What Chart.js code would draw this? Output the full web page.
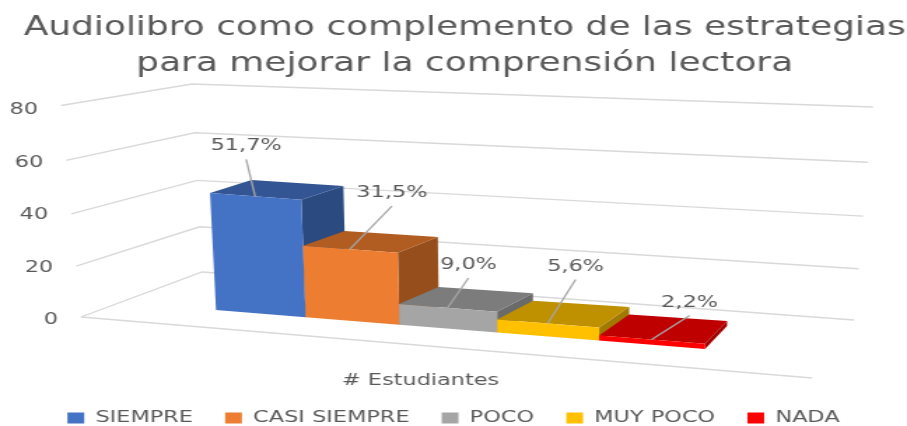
<!DOCTYPE html>
<html>
<head>
<meta charset="utf-8">
<style>
  html, body { margin: 0; background: #fff; overflow: hidden; }
</style>
<script src="https://cdn.jsdelivr.net/npm/chart.js@4"></script>
</head>
<body>
<!-- the reference is a wide, blurry upscale: draw narrow, then stretch -->
<canvas id="chart" width="648" height="426" style="display:block;width:907px;height:426px;filter:blur(0.4px)"></canvas>
<script>
const titleLines = ['Audiolibro como complemento de las estrategias', 'para mejorar la comprensión lectora'];
const categories = ['# Estudiantes'];
const seriesNames = ['SIEMPRE', 'CASI SIEMPRE', 'POCO', 'MUY POCO', 'NADA'];
const seriesValues = [46, 28, 8, 5, 2];
const percentLabels = ['51,7%', '31,5%', '9,0%', '5,6%', '2,2%'];
const yTickValues = [0, 20, 40, 60, 80];

const seriesColors = ['#4472C4', '#ED7D31', '#A5A5A5', '#FFC000', '#FF0000'];
const topColors = ['#335593', '#B15C20', '#7C7C7C', '#BF9000', '#BF0000'];
const sideColors = ['#2A4A80', '#964F1C', '#6A6A6A', '#A07900', '#A00000'];

const STRETCH = 907 / 648;
const TEXT = '#595959';
const FONT = '"DejaVu Sans"';

// 3D look: where the unit square (along x, up y) of each plane lands in the picture
const frontPlane = { bl: [216, 310], br: [705, 349], tl: [205.6, 106.5], tr: [710, 141], a: 0.896, b: 0.104 };
const backPlane = { bl: [256, 295], br: [727, 326], tl: [248, 95], tr: [733, 126], a: 0.95, b: 0.05 };

// box corners at value 0 and at the axis max
const wall = {
  front: [[81, 317], [61, 105.5]],
  corner: [[202, 272], [192, 84]],
  right: [[854, 320], [873, 107]],
  floorEnd: [812, 378]
};

// data label leader, from the bar's top front edge
const leaderOffsets = [[-9, -37], [42, -43], [21, -30], [28, -44], [38, -24]];

function lerp(p, q, t) {
  return [p[0] + (q[0] - p[0]) * t, p[1] + (q[1] - p[1]) * t];
}

function project(plane, s, q) {
  const t = plane.a * s + plane.b * s * s;
  return lerp(lerp(plane.bl, plane.br, t), lerp(plane.tl, plane.tr, t), q);
}

function polygon(ctx, pts, color) {
  ctx.beginPath();
  pts.forEach((p, i) => i ? ctx.lineTo(p[0] / STRETCH, p[1]) : ctx.moveTo(p[0] / STRETCH, p[1]));
  ctx.closePath();
  ctx.fillStyle = color;
  ctx.fill();
}

function polyline(ctx, pts, color, width) {
  ctx.beginPath();
  pts.forEach((p, i) => i ? ctx.lineTo(p[0] / STRETCH, p[1]) : ctx.moveTo(p[0] / STRETCH, p[1]));
  ctx.strokeStyle = color;
  ctx.lineWidth = width;
  ctx.stroke();
}

const box3d = {
  id: 'box3d',
  afterLayout(chart) {
    // title sits a little right of the canvas centre
    chart.titleBlock.left += 8;
    chart.titleBlock.right += 8;
  },
  beforeDatasetsDraw(chart) {
    const ctx = chart.ctx;
    const x = chart.scales.x;
    const y = chart.scales.y;
    const fracOf = px => (y.bottom - px) / (y.bottom - y.top);

    ctx.save();

    // walls and floor
    y.ticks.forEach(tick => {
      let q = fracOf(y.getPixelForValue(tick.value));
      q = q - 0.05 * q * (1 - q);
      const a = lerp(wall.front[0], wall.front[1], q);
      const b = lerp(wall.corner[0], wall.corner[1], q);
      const c = lerp(wall.right[0], wall.right[1], q);
      polyline(ctx, [a, b, c], '#D9D9D9', 1.4);

      ctx.font = '16px ' + FONT;
      ctx.fillStyle = TEXT;
      ctx.textAlign = 'right';
      ctx.textBaseline = 'middle';
      ctx.fillText(tick.value, (a[0] - 23) / STRETCH, y.getPixelForValue(tick.value));
    });
    polyline(ctx, [wall.front[0], wall.floorEnd], '#D9D9D9', 1.4);

    // bars, left to right so each one covers the previous side
    chart.data.datasets.forEach((ds, i) => {
      const el = chart.getDatasetMeta(i).data[0];
      const s0 = (el.x - el.width / 2 - x.left) / x.width;
      const s1 = (el.x + el.width / 2 - x.left) / x.width;
      const q = fracOf(el.y);
      const f = (s, v) => project(frontPlane, s, v);
      const b = (s, v) => project(backPlane, s, v);

      polygon(ctx, [f(s1, 0), f(s1, q), b(s1, q), b(s1, 0)], sideColors[i]);
      polygon(ctx, [f(s0, q), f(s1, q), b(s1, q), b(s0, q)], topColors[i]);
      polygon(ctx, [f(s0, 0), f(s1, 0), f(s1, q), f(s0, q)], ds.backgroundColor);
    });

    // data labels with leaders
    chart.data.datasets.forEach((ds, i) => {
      const el = chart.getDatasetMeta(i).data[0];
      const sc = (el.x - x.left) / x.width;
      const end = project(frontPlane, sc, fracOf(el.y));
      const start = [end[0] + leaderOffsets[i][0], end[1] + leaderOffsets[i][1]];
      polyline(ctx, [start, end], '#A6A6A6', 1.3);

      ctx.font = '16px ' + FONT;
      ctx.fillStyle = TEXT;
      ctx.textAlign = 'center';
      ctx.textBaseline = 'middle';
      ctx.fillText(percentLabels[i], start[0] / STRETCH, start[1] - 13);
    });

    ctx.restore();
  },
  beforeDatasetDraw() {
    return false;
  }
};

new Chart(document.getElementById('chart'), {
  type: 'bar',
  data: {
    labels: categories,
    datasets: seriesNames.map((name, i) => ({
      label: name,
      data: [seriesValues[i]],
      backgroundColor: seriesColors[i],
      barPercentage: 1,
      categoryPercentage: 1
    }))
  },
  plugins: [box3d],
  options: {
    responsive: false,
    animation: false,
    layout: { padding: { bottom: -10 } },
    plugins: {
      title: {
        display: true,
        text: titleLines,
        color: TEXT,
        font: { family: FONT, size: 25.7, weight: 'normal', lineHeight: 1.42 },
        padding: { top: 10, bottom: 27 }
      },
      legend: {
        position: 'bottom',
        labels: {
          color: TEXT,
          font: { family: FONT, size: 16 },
          boxWidth: 12,
          boxHeight: 11,
          padding: 23
        }
      },
      tooltip: { enabled: false }
    },
    scales: {
      x: {
        afterFit(scale) { scale.height = 67; },
        grid: { display: false },
        border: { display: false },
        ticks: {
          color: TEXT,
          font: { family: FONT, size: 16 },
          padding: 43,
          labelOffset: -45,
          maxRotation: 0
        }
      },
      y: {
        min: 0,
        max: 80,
        afterFit(scale) { scale.width = 43; },
        afterBuildTicks(scale) { scale.ticks = yTickValues.map(v => ({ value: v })); },
        grid: { display: false },
        border: { display: false },
        ticks: { display: false }
      }
    }
  }
});
</script>
</body>
</html>
